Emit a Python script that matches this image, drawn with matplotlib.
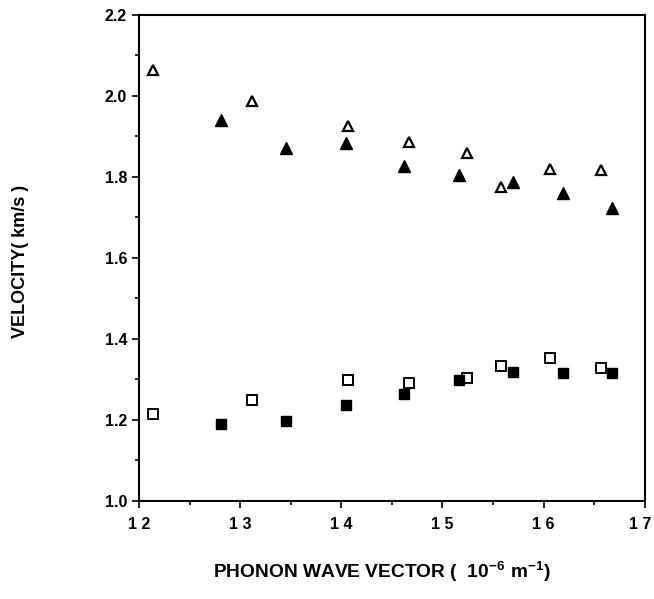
import matplotlib
matplotlib.use("Agg")
import matplotlib.pyplot as plt
from matplotlib.ticker import MultipleLocator, FuncFormatter

plt.rcParams['font.family'] = ['Liberation Sans', 'DejaVu Sans']

# open triangles / open squares share the same q values
q_open = [12.14, 13.12, 14.07, 14.67, 15.24, 15.58, 16.06, 16.57]
v_tri_open = [2.064, 1.987, 1.925, 1.886, 1.859, 1.775, 1.820, 1.818]
v_sq_open = [1.215, 1.248, 1.299, 1.290, 1.303, 1.334, 1.352, 1.327]

# filled triangles / filled squares
q_fill = [12.81, 13.45, 14.05, 14.62, 15.16, 15.70, 16.19, 16.68]
v_tri_fill = [1.940, 1.872, 1.884, 1.827, 1.805, 1.787, 1.760, 1.724]
v_sq_fill = [1.190, 1.198, 1.237, 1.263, 1.299, 1.318, 1.315, 1.315]

x_max = 17

fig = plt.figure(figsize=(6.54, 5.99), dpi=100)
ax = fig.add_axes([0.2125, 0.164, 0.7735, 0.811])

ax.plot(q_open, v_tri_open, linestyle='none', marker='^', markersize=7,
        markerfacecolor='white', markeredgecolor='black', markeredgewidth=1.6)
ax.plot(q_fill, v_tri_fill, linestyle='none', marker='^', markersize=8,
        color='black')
ax.plot(q_open, v_sq_open, linestyle='none', marker='s', markersize=7,
        markerfacecolor='white', markeredgecolor='black', markeredgewidth=1.4)
ax.plot(q_fill, v_sq_fill, linestyle='none', marker='s', markersize=7.5,
        color='black')

def spaced(v):
    return ' '.join(str(int(round(v))))

ax.set_xlim(12, x_max)
ax.set_ylim(1.0, 2.2)
ax.xaxis.set_major_locator(MultipleLocator(1))
ax.xaxis.set_minor_locator(MultipleLocator(0.5))
ax.yaxis.set_major_locator(MultipleLocator(0.2))
ax.yaxis.set_minor_locator(MultipleLocator(0.1))
# the last label sits at the figure edge, it is drawn separately below
ax.xaxis.set_major_formatter(FuncFormatter(lambda v, p: '' if v > x_max - 0.5 else spaced(v)))
ax.yaxis.set_major_formatter(FuncFormatter(lambda v, p: '%.1f' % v))

ax.tick_params(which='both', direction='out', top=False, right=False, width=1.2)
ax.tick_params(which='major', length=5)
ax.tick_params(which='minor', length=3)
ax.tick_params(axis='y', labelsize=11.5)
ax.tick_params(axis='x', labelsize=11.5, pad=7)
for lab in ax.get_xticklabels() + ax.get_yticklabels():
    lab.set_fontweight('bold')
for s in ax.spines.values():
    s.set_linewidth(1.5)

ax.annotate(spaced(x_max), xy=(x_max, 0), xycoords=ax.get_xaxis_transform(),
            xytext=(-3, -12), textcoords='offset points', ha='center', va='top',
            fontsize=11.5, fontweight='bold', annotation_clip=False)

fig.text(0.031, 0.563, 'VELOCITY( km/s )', rotation=90, ha='center', va='center',
         fontsize=13, fontweight='bold')
fig.text(0.326, 0.035, r'PHONON WAVE VECTOR (  $\mathregular{10^{-6}\ m^{-1}}$)',
         ha='left', va='baseline', fontsize=13.8, fontweight='bold')

fig.savefig('out.png', dpi=100)
